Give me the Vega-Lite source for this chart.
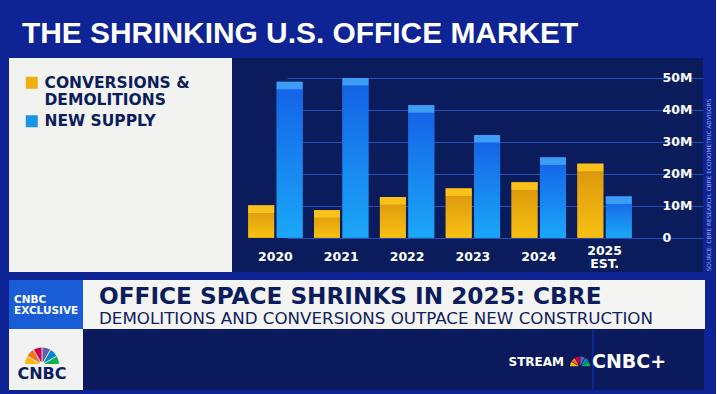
{
  "$schema": "https://vega.github.io/schema/vega-lite/v6.json",
  "background": "#0e2394",
  "padding": {"left": 9, "top": 19, "right": 5, "bottom": 4},
  "title": {
    "text": "THE SHRINKING U.S. OFFICE MARKET",
    "anchor": "start",
    "frame": "group",
    "font": "Liberation Sans",
    "fontWeight": "bold",
    "fontSize": 29.9,
    "color": "#ffffff",
    "dx": 13,
    "offset": -15,
    "baseline": "alphabetic"
  },
  "datasets": {
    "office": [
      {"year": "2020", "series": "CONVERSIONS & DEMOLITIONS", "value": 10.1},
      {"year": "2020", "series": "NEW SUPPLY", "value": 48.7},
      {"year": "2021", "series": "CONVERSIONS & DEMOLITIONS", "value": 8.6},
      {"year": "2021", "series": "NEW SUPPLY", "value": 49.9},
      {"year": "2022", "series": "CONVERSIONS & DEMOLITIONS", "value": 12.7},
      {"year": "2022", "series": "NEW SUPPLY", "value": 41.4},
      {"year": "2023", "series": "CONVERSIONS & DEMOLITIONS", "value": 15.4},
      {"year": "2023", "series": "NEW SUPPLY", "value": 32.1},
      {"year": "2024", "series": "CONVERSIONS & DEMOLITIONS", "value": 17.3},
      {"year": "2024", "series": "NEW SUPPLY", "value": 25.1},
      {"year": "2025 EST.", "series": "CONVERSIONS & DEMOLITIONS", "value": 23.1},
      {"year": "2025 EST.", "series": "NEW SUPPLY", "value": 12.9}
    ],
    "feathers": [
      {"feather": "1"}, {"feather": "2"}, {"feather": "3"},
      {"feather": "4"}, {"feather": "5"}, {"feather": "6"}
    ]
  },
  "spacing": 8,
  "vconcat": [
    {
      "spacing": 0,
      "hconcat": [
        {
          "width": 223,
          "height": 214,
          "view": {"fill": "#f2f3f1", "stroke": null},
          "data": {"values": []},
          "mark": "rect"
        },
        {
          "width": 471,
          "height": 214,
          "view": {"fill": "#0b1c5c", "stroke": null},
          "data": {"name": "office"},
          "encoding": {
            "x": {
              "field": "year",
              "type": "nominal",
              "sort": null,
              "scale": {"range": [0, 416], "paddingInner": 0.175, "paddingOuter": 0.247},
              "axis": {
                "orient": "bottom",
                "offset": -34.3,
                "title": null,
                "domain": false,
                "ticks": false,
                "tickSize": 0,
                "grid": false,
                "labelPadding": {"condition": {"test": "datum.value == '2025 EST.'", "value": 12.3}, "value": 19},
                "labelBaseline": "middle",
                "labelAngle": 0,
                "labelExpr": "split(datum.label, ' ')",
                "labelFont": "DejaVu Sans",
                "labelFontWeight": "bold",
                "labelFontSize": 12.5,
                "labelLineHeight": 13.6,
                "labelColor": "#ffffff"
              }
            },
            "xOffset": {
              "field": "series",
              "type": "nominal",
              "sort": null,
              "scale": {"paddingInner": 0.09, "paddingOuter": 0}
            },
            "y": {
              "field": "value",
              "type": "quantitative",
              "scale": {"domain": [0, 50], "range": [179.7, 19.7], "nice": false},
              "axis": {
                "orient": "right",
                "offset": -55,
                "values": [0, 10, 20, 30, 40, 50],
                "labelExpr": "datum.value == 0 ? '0' : datum.value + 'M'",
                "grid": true,
                "gridColor": "#2b4cb0",
                "gridWidth": 1,
                "gridOpacity": 1,
                "domain": false,
                "ticks": false,
                "tickSize": 0,
                "labelPadding": 14,
                "labelAlign": "left",
                "labelBaseline": "middle",
                "labelFont": "DejaVu Sans",
                "labelFontWeight": "bold",
                "labelFontSize": 12.5,
                "labelColor": "#ffffff",
                "title": "SOURCE: CBRE RESEARCH, CBRE ECONOMETRIC ADVISORS",
                "titleFont": "DejaVu Sans",
                "titleFontSize": 5.8,
                "titleFontWeight": "normal",
                "titleColor": "#9aa6d6",
                "titleAngle": 270,
                "titleAlign": "center",
                "titleBaseline": "middle",
                "titleX": 60,
                "titleY": 126.5
              }
            }
          },
          "layer": [
            {
              "mark": {"type": "bar", "opacity": 1},
              "encoding": {
                "color": {
                  "field": "series",
                  "type": "nominal",
                  "sort": null,
                  "scale": {"domain": ["CONVERSIONS & DEMOLITIONS", "NEW SUPPLY"], "range": ["#f0ae10", "#1b94e8"]},
                  "legend": {
                    "orient": "none",
                    "legendX": 15,
                    "legendY": 17,
                    "title": null,
                    "padding": 0,
                    "symbolType": "square",
                    "symbolSize": 144,
                    "symbolStrokeWidth": 0,
                    "labelFont": "DejaVu Sans",
                    "labelFontWeight": "bold",
                    "labelFontSize": 15.5,
                    "labelColor": "#0c1d5b",
                    "labelOffset": 5,
                    "labelLimit": 240,
                    "rowPadding": 4.5,
                    "labelExpr": "datum.label == 'CONVERSIONS & DEMOLITIONS' ? ['CONVERSIONS &', 'DEMOLITIONS'] : datum.label"
                  }
                }
              }
            },
            {
              "transform": [{"filter": "datum.series === 'CONVERSIONS & DEMOLITIONS'"}],
              "mark": {
                "type": "bar",
                "opacity": 1,
                "color": {"gradient": "linear", "x1": 0, "y1": 0, "x2": 0, "y2": 1,
                  "stops": [{"offset": 0, "color": "#d9940c"}, {"offset": 1, "color": "#f8c112"}]}
              }
            },
            {
              "transform": [{"filter": "datum.series === 'NEW SUPPLY'"}],
              "mark": {
                "type": "bar",
                "opacity": 1,
                "color": {"gradient": "linear", "x1": 0, "y1": 0, "x2": 0, "y2": 1,
                  "stops": [{"offset": 0, "color": "#1460e6"}, {"offset": 1, "color": "#1ba7f8"}]}
              }
            },
            {
              "transform": [{"filter": "datum.series === 'CONVERSIONS & DEMOLITIONS'"}],
              "mark": {"type": "tick", "opacity": 1, "color": "#f9c11b", "thickness": 7.5, "size": 25.9, "yOffset": 3.75}
            },
            {
              "transform": [{"filter": "datum.series === 'NEW SUPPLY'"}],
              "mark": {"type": "tick", "opacity": 1, "color": "#3c9cf6", "thickness": 7.5, "size": 25.9, "yOffset": 3.75}
            }
          ]
        }
      ]
    },
    {
      "spacing": 0,
      "vconcat": [
        {
          "spacing": 0,
          "hconcat": [
            {
              "width": 74,
              "height": 49,
              "view": {"fill": "#1a5cd6", "stroke": null},
              "data": {"values": []},
              "mark": "rect",
              "title": {
                "text": ["CNBC", "EXCLUSIVE"],
                "orient": "bottom",
                "anchor": "start",
                "frame": "group",
                "offset": -34.3,
                "dx": 5,
                "font": "DejaVu Sans",
                "fontWeight": "bold",
                "fontSize": 10.5,
                "lineHeight": 11,
                "color": "#ffffff",
                "baseline": "top"
              }
            },
            {
              "width": 622,
              "height": 49,
              "view": {"fill": "#f4f4f2", "stroke": null},
              "data": {"values": []},
              "mark": "rect",
              "title": {
                "text": "OFFICE SPACE SHRINKS IN 2025: CBRE",
                "subtitle": "DEMOLITIONS AND CONVERSIONS OUTPACE NEW CONSTRUCTION",
                "orient": "bottom",
                "anchor": "start",
                "frame": "group",
                "offset": -43.2,
                "dx": 16,
                "font": "DejaVu Sans",
                "fontWeight": "bold",
                "fontSize": 23.2,
                "color": "#0b1d5c",
                "subtitleFont": "DejaVu Sans",
                "subtitleFontWeight": "normal",
                "subtitleFontSize": 16.7,
                "subtitleColor": "#10205e",
                "subtitlePadding": 2.4,
                "baseline": "top"
              }
            }
          ]
        },
        {
          "spacing": 0,
          "hconcat": [
            {
              "width": 74,
              "height": 61,
              "view": {"fill": "#f2f2f2", "stroke": null},
              "data": {"name": "feathers"},
              "mark": {"type": "arc", "radius": 17, "innerRadius": 3, "padAngle": 0.05, "xOffset": -4, "yOffset": 5, "opacity": 1},
              "encoding": {
                "theta": {"aggregate": "count", "type": "quantitative", "scale": {"range": [-1.5708, 1.5708]}},
                "fill": {"field": "feather", "type": "nominal", "legend": null,
                  "scale": {"range": ["#fcb711", "#f37021", "#cc004c", "#6460aa", "#0089d0", "#0db14b"]}}
              },
              "title": {
                "text": "CNBC",
                "orient": "bottom",
                "anchor": "middle",
                "frame": "group",
                "offset": -24.3,
                "dx": -4,
                "font": "DejaVu Sans",
                "fontWeight": "bold",
                "fontSize": 16,
                "color": "#0b1d5c",
                "baseline": "top"
              }
            },
            {
              "width": 485,
              "height": 61,
              "view": {"fill": "#0a1a5c", "stroke": null},
              "data": {"values": []},
              "mark": "rect",
              "title": {
                "text": "STREAM",
                "orient": "bottom",
                "anchor": "end",
                "frame": "group",
                "offset": -33.1,
                "dx": -4,
                "font": "DejaVu Sans",
                "fontWeight": "bold",
                "fontSize": 12,
                "color": "#ffffff",
                "baseline": "top"
              }
            },
            {
              "width": 24,
              "height": 61,
              "view": {"fill": "#0a1a5c", "stroke": null},
              "data": {"name": "feathers"},
              "mark": {"type": "arc", "radius": 10, "innerRadius": 1.5, "padAngle": 0.06, "yOffset": 7, "opacity": 1},
              "encoding": {
                "theta": {"aggregate": "count", "type": "quantitative", "scale": {"range": [-1.5708, 1.5708]}},
                "fill": {"field": "feather", "type": "nominal", "legend": null,
                  "scale": {"range": ["#fcb711", "#f37021", "#cc004c", "#6460aa", "#0089d0", "#0db14b"]}}
              }
            },
            {
              "width": 110,
              "height": 61,
              "view": {"fill": "#0a1a5c", "stroke": null},
              "data": {"values": []},
              "mark": "rect",
              "title": {
                "text": "CNBC+",
                "orient": "bottom",
                "anchor": "start",
                "frame": "group",
                "offset": -37,
                "dx": -2,
                "font": "DejaVu Sans",
                "fontWeight": "bold",
                "fontSize": 19,
                "color": "#ffffff",
                "baseline": "top"
              }
            }
          ]
        }
      ]
    }
  ],
  "config": {
    "view": {"stroke": null},
    "font": "DejaVu Sans"
  }
}
